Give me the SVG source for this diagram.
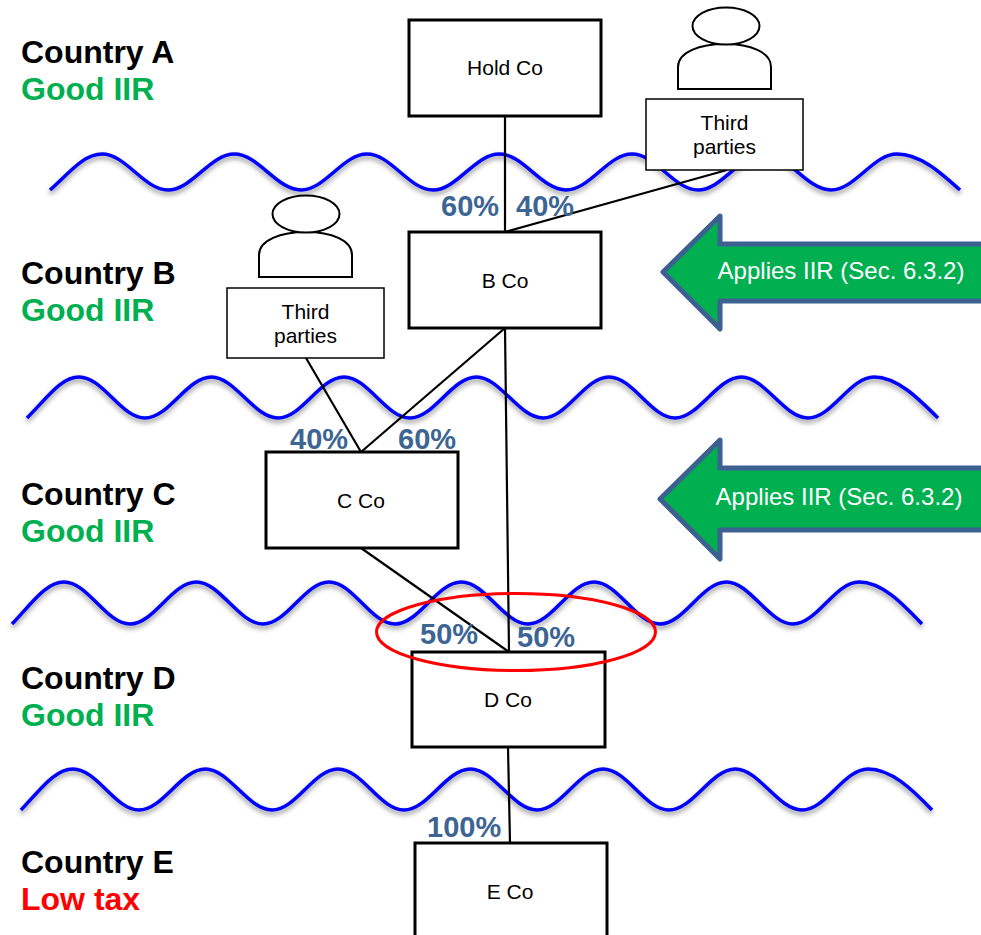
<svg xmlns="http://www.w3.org/2000/svg" width="981" height="935" viewBox="0 0 981 935">
<style>
text{font-family:"Liberation Sans",Arial,sans-serif}
.c{font-size:32px;font-weight:bold;fill:#000}
.g{font-size:32px;font-weight:bold;fill:#00b050}
.r{font-size:32px;font-weight:bold;fill:#ff0000}
.p{font-size:29px;font-weight:bold;fill:#3d6594}
.t{font-size:21px;fill:#000;text-anchor:middle}
.a{font-size:24px;fill:#fff;text-anchor:middle}
.box{fill:#fff;stroke:#000;stroke-width:3}
.tp{fill:#fff;stroke:#000;stroke-width:1.5}
.person{fill:#fff;stroke:#000;stroke-width:2}
.wave{fill:none;stroke:#0000ff;stroke-width:3.5;filter:url(#sh)}
.arrow{fill:#00b050;stroke:#3c6090;stroke-width:5;stroke-linejoin:round}
.l{stroke:#000;stroke-width:2.2;fill:none}
</style>
<defs>
<filter id="sh" x="-5%" y="-30%" width="110%" height="180%"><feDropShadow dx="0" dy="3" stdDeviation="2.500" flood-color="#000" flood-opacity="0.45"/></filter>
</defs>
<g id="waves">
<path class="wave" d="M50,190C70,172 84,154 102,154C126,154 144,190 168,190C192,190 210,154 234.500,154C258,154 277,190 301,190C325,190 343,154 367,154C391,154 409,190 433,190C457,190 475,154 499.500,154C523,154 542,190 566,190C590,190 608,154 632,154C656,154 674,190 698,190C722,190 740,154 764.500,154C788,154 807,190 831,190C855,190 873,154 897,154C920,154 940,172 960,190"/>
<path class="wave" d="M27,418C47,398 61,377 79,377C103,377 121,418 145,418C169,418 187,377 211.500,377C235,377 254,418 278,418C302,418 320,377 344,377C368,377 386,418 410,418C434,418 452,377 476.500,377C500,377 519,418 543,418C567,418 585,377 609,377C633,377 651,418 675,418C699,418 717,377 741.500,377C765,377 784,418 808,418C832,418 850,377 874,377C897,377 918,398 938,418"/>
<path class="wave" d="M12,624C32,603 46,582 64,582C88,582 106,624 130,624C154,624 172,582 196.500,582C220,582 239,624 263,624C287,624 305,582 329,582C353,582 371,624 395,624C419,624 437,582 461.500,582C485,582 504,624 528,624C552,624 570,582 594,582C618,582 636,624 660,624C684,624 702,582 726.500,582C750,582 769,624 793,624C817,624 835,582 859,582C882,582 902,603 922,624"/>
<path class="wave" d="M21,810C41,789 55,769 73,769C97,769 115,810 139,810C163,810 181,769 205.500,769C229,769 248,810 272,810C296,810 314,769 338,769C362,769 380,810 404,810C428,810 446,769 470.500,769C494,769 513,810 537,810C561,810 579,769 603,769C627,769 645,810 669,810C693,810 711,769 735.500,769C759,769 778,810 802,810C826,810 844,769 868,769C891,769 912,789 932,810"/>
</g>
<g id="labels">
<text class="c" x="21" y="63">Country A</text><text class="g" x="21" y="100">Good IIR</text>
<text class="c" x="21" y="284">Country B</text><text class="g" x="21" y="321">Good IIR</text>
<text class="c" x="21" y="505">Country C</text><text class="g" x="21" y="542">Good IIR</text>
<text class="c" x="21" y="689">Country D</text><text class="g" x="21" y="726">Good IIR</text>
<text class="c" x="21" y="873">Country E</text><text class="r" x="21" y="910">Low tax</text>
</g>
<g id="connectors">
<line class="l" x1="505" y1="116" x2="505" y2="232"/>
<line class="l" x1="727" y1="170" x2="505" y2="232"/>
<line class="l" x1="306" y1="358" x2="361" y2="452"/>
<line class="l" x1="505" y1="328" x2="361" y2="452"/>
<line class="l" x1="505" y1="328" x2="509" y2="652"/>
<line class="l" x1="361" y1="548" x2="509" y2="652"/>
<line class="l" x1="508" y1="747" x2="510" y2="843"/>
</g>
<g id="hold-co"><rect class="box" x="409" y="20" width="192" height="96"/><text class="t" x="505" y="75">Hold Co</text></g>
<g id="b-co"><rect class="box" x="409" y="232" width="192" height="96"/><text class="t" x="505" y="288">B Co</text></g>
<g id="c-co"><rect class="box" x="266" y="452" width="192" height="96"/><text class="t" x="361" y="508">C Co</text></g>
<g id="d-co"><rect class="box" x="412" y="652" width="193" height="95"/><text class="t" x="508" y="707">D Co</text></g>
<g id="e-co"><rect class="box" x="415" y="843" width="192" height="97"/><text class="t" x="510" y="899">E Co</text></g>
<g id="person-1"><path class="person" d="M678,89V67C678,52 700,44 725,44C750,44 771,52 771,67V89Z"/><ellipse class="person" cx="726" cy="26" rx="33.500" ry="18.500"/></g>
<g id="third-1"><rect class="tp" x="646" y="99" width="157" height="71"/><text class="t" x="724.500" y="130">Third</text><text class="t" x="724.500" y="154">parties</text></g>
<g id="person-2"><path class="person" d="M259,277V255C259,240 281,232 306,232C331,232 352,240 352,255V277Z"/><ellipse class="person" cx="306" cy="214" rx="33.500" ry="18.500"/></g>
<g id="third-2"><rect class="tp" x="227" y="288" width="157" height="70"/><text class="t" x="305.500" y="319">Third</text><text class="t" x="305.500" y="343">parties</text></g>
<g id="arrow-1"><path class="arrow" d="M990,244H720V216L663,272L720,329V301H990Z"/><text class="a" x="841" y="279">Applies IIR (Sec. 6.3.2)</text></g>
<g id="arrow-2"><path class="arrow" d="M990,468H720V440L660,499L720,559V530H990Z"/><text class="a" x="839" y="505">Applies IIR (Sec. 6.3.2)</text></g>
<g id="percents">
<text class="p" x="441" y="216">60%</text><text class="p" x="516" y="216">40%</text>
<text class="p" x="290" y="449">40%</text><text class="p" x="398" y="449">60%</text>
<text class="p" x="420" y="644">50%</text><text class="p" x="517" y="647">50%</text>
<text class="p" x="427" y="837">100%</text>
</g>
<ellipse id="highlight" cx="516" cy="632" rx="139.500" ry="38.500" fill="none" stroke="#ff0000" stroke-width="3"/>
</svg>
